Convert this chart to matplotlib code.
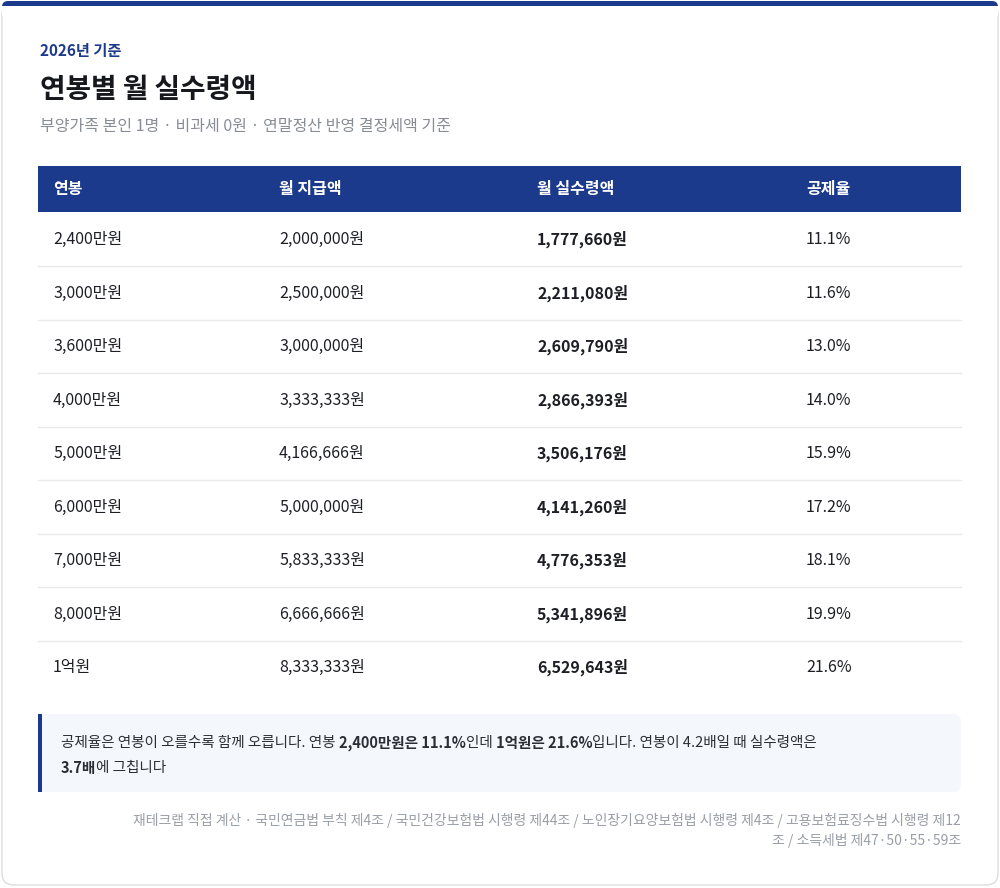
import matplotlib.pyplot as plt
from matplotlib.patches import FancyBboxPatch, Rectangle

plt.rcParams['font.family'] = ['Noto Sans CJK KR', 'DejaVu Sans']

salary = ['2,400만원', '3,000만원', '3,600만원', '4,000만원', '5,000만원',
          '6,000만원', '7,000만원', '8,000만원', '1억원']
gross = [2000000, 2500000, 3000000, 3333333, 4166666, 5000000, 5833333, 6666666, 8333333]
net = [1777660, 2211080, 2609790, 2866393, 3506176, 4141260, 4776353, 5341896, 6529643]
rate = [11.1, 11.6, 13.0, 14.0, 15.9, 17.2, 18.1, 19.9, 21.6]
headers = ['연봉', '월 지급액', '월 실수령액', '공제율']

NAVY = '#1c3a8c'
W, H = 1000, 888
fig = plt.figure(figsize=(W / 100, H / 100), dpi=100)
ax = fig.add_axes([0, 0, 1, 1])
ax.set_xlim(0, W)
ax.set_ylim(H, 0)
ax.axis('off')

# card
ax.add_patch(FancyBboxPatch((2, 2), W - 4, H - 5, boxstyle='round,pad=0,rounding_size=12',
                            fc='white', ec='#dddddd', lw=1))
ax.add_patch(FancyBboxPatch((2, 1), W - 4, 12, boxstyle='round,pad=0,rounding_size=6',
                            fc=NAVY, ec='none'))
ax.add_patch(Rectangle((2, 6), W - 4, 10, fc='white', ec='none'))

ax.text(40, 51, '2026년 기준', color=NAVY, fontsize=11, fontweight='bold', va='center')
ax.text(40, 90, '연봉별 월 실수령액', color='#16181d', fontsize=20, fontweight='bold', va='center')
ax.text(40, 127, '부양가족 본인 1명 · 비과세 0원 · 연말정산 반영 결정세액 기준',
        color='#888c94', fontsize=11.5, va='center')

cols = [53, 279, 537, 806]
ax.add_patch(Rectangle((38, 166), 923, 46, fc=NAVY, ec='none'))
for x, h in zip(cols, headers):
    ax.text(x, 189, h, color='white', fontsize=11.5, fontweight='bold', va='center')

row_h = 53.5
for i in range(len(salary)):
    yc = 239.5 + i * row_h
    cells = [salary[i], f'{gross[i]:,}원', f'{net[i]:,}원', f'{rate[i]:.1f}%']
    for j, (x, c) in enumerate(zip(cols, cells)):
        ax.text(x, yc, c, color='#1d1f24', fontsize=11.5, va='center',
                fontweight='bold' if j == 2 else 'normal')
    if i < len(salary) - 1:
        ax.plot([38, 961], [yc + row_h / 2] * 2, color='#e6e8ec', lw=1)

# note box
ax.add_patch(FancyBboxPatch((38, 714), 923, 78, boxstyle='round,pad=0,rounding_size=8',
                            fc='#f4f7fb', ec='none'))
ax.add_patch(Rectangle((38, 714), 4, 78, fc=NAVY, ec='none'))

fig.canvas.draw()
r = fig.canvas.get_renderer()
inv = ax.transData.inverted()

def rich(x, y, parts):
    for s, b in parts:
        t = ax.text(x, y, s, fontsize=10.5, color='#2b2e35', va='center',
                    fontweight='bold' if b else 'normal')
        bb = t.get_window_extent(r)
        x = inv.transform((bb.x1, bb.y0))[0]

rich(61, 743, [('공제율은 연봉이 오를수록 함께 오릅니다. 연봉 ', False), ('2,400만원은 11.1%', True),
               ('인데 ', False), ('1억원은 21.6%', True),
               ('입니다. 연봉이 4.2배일 때 실수령액은', False)])
rich(61, 768, [('3.7배', True), ('에 그칩니다', False)])

ax.text(961, 820, '재테크랩 직접 계산 · 국민연금법 부칙 제4조 / 국민건강보험법 시행령 제44조 / '
        '노인장기요양보험법 시행령 제4조 / 고용보험료징수법 시행령 제12',
        color='#9a9ea6', fontsize=10, ha='right', va='center')
ax.text(961, 840, '조 / 소득세법 제47·50·55·59조', color='#9a9ea6', fontsize=10,
        ha='right', va='center')

fig.savefig('out.png', dpi=100)
